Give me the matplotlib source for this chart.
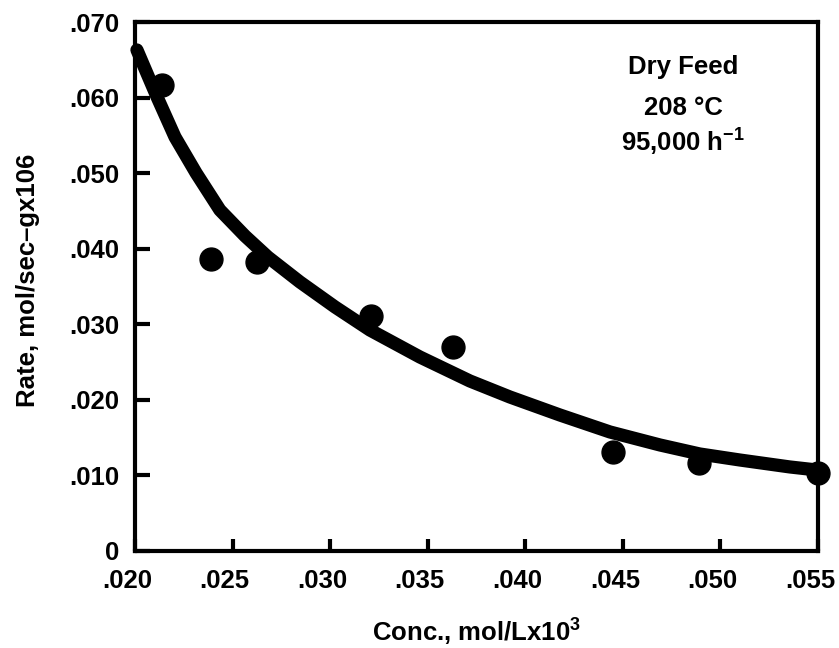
import matplotlib
matplotlib.use("Agg")
import matplotlib.pyplot as plt
from matplotlib.transforms import ScaledTranslation

plt.rcParams['font.family'] = ['Liberation Sans', 'DejaVu Sans']
plt.rcParams['font.weight'] = 'bold'
plt.rcParams['mathtext.default'] = 'regular'

# measured data points
conc = [0.0214, 0.0239, 0.02625, 0.0321, 0.0363, 0.0445, 0.0489, 0.0550]
rate = [0.0616, 0.0386, 0.0382, 0.0311, 0.0270, 0.0131, 0.0117, 0.0103]

# fitted curve
curve_x = [0.02010, 0.02113, 0.02205, 0.02313, 0.02435, 0.02564, 0.02681,
           0.02845, 0.03025, 0.03204, 0.03460, 0.03716, 0.03921, 0.04177,
           0.04434, 0.04690, 0.04894, 0.05100, 0.05356, 0.05494]
curve_y = [0.06630, 0.06008, 0.05478, 0.05002, 0.04512, 0.04168, 0.03890,
           0.03560, 0.03229, 0.02924, 0.02567, 0.02250, 0.02038, 0.01800,
           0.01575, 0.01403, 0.01284, 0.01204, 0.01112, 0.01072]

xticks = [0.020, 0.025, 0.030, 0.035, 0.040, 0.045, 0.050, 0.055]
xtick_labels = ['.020', '.025', '.030', '.035', '.040', '.045', '.050', '.055']
yticks = [0, 0.010, 0.020, 0.030, 0.040, 0.050, 0.060, 0.070]
ytick_labels = ['0', '.010', '.020', '.030', '.040', '.050', '.060', '.070']

FS = 18.5

fig = plt.figure(figsize=(8.39, 6.48), dpi=100)
ax = fig.add_axes([135/839, 97/648, (818-135)/839, (551-22)/648])

ax.plot(curve_x, curve_y, color='black', lw=9.5, solid_capstyle='round',
        solid_joinstyle='round', clip_on=False, zorder=3)
ax.plot(conc, rate, 'o', color='black', ms=16.5, clip_on=False, zorder=4)

ax.set_xlim(0.020, 0.055)
ax.set_ylim(0, 0.070)
ax.set_xticks(xticks)
ax.set_xticklabels(xtick_labels)
ax.set_yticks(yticks)
ax.set_yticklabels(ytick_labels)

for s in ax.spines.values():
    s.set_linewidth(3)
ax.tick_params(axis='both', direction='in', width=3, labelsize=FS)
ax.tick_params(axis='y', length=11, pad=11)
ax.tick_params(axis='x', length=9, pad=13)

shift = ScaledTranslation(-8/100, 0, fig.dpi_scale_trans)
for lab in ax.get_xticklabels():
    lab.set_transform(lab.get_transform() + shift)

fig.text(477/839, 6/648, 'Conc., mol/Lx10$^{3}$', fontsize=FS,
         ha='center', va='baseline')
fig.text(28/839, 1 - 280/648, 'Rate, mol/sec\u2013gx106', fontsize=FS,
         ha='center', va='center', rotation=90)

fig.text(683/839, 1 - 74/648, 'Dry Feed', ha='center', va='baseline',
         fontsize=FS)
fig.text(683/839, 1 - 115/648, '208 \u00b0C', ha='center', va='baseline',
         fontsize=FS)
fig.text(683/839, 1 - 152/648, '95,000 h$^{-1}$', ha='center',
         va='baseline', fontsize=FS)

fig.savefig('out.png', dpi=100)
